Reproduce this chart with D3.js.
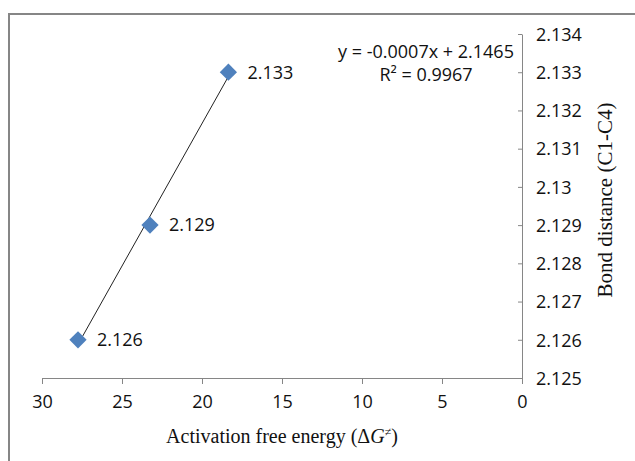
<!DOCTYPE html>
<html>
<head>
<meta charset="utf-8">
<script src="https://cdn.jsdelivr.net/npm/d3@7"></script>
<style>
  body { margin: 0; background: #fff; }
  svg { display: block; }
  .tick text { font-family: "Open Sans", sans-serif; font-size: 18px; fill: #111; }
</style>
</head>
<body>
<div id="chart"></div>
<script>
// activation free energy (x) vs bond distance C1-C4 (y)
var energy = [27.75, 23.25, 18.35]
var bond = [2.126, 2.129, 2.133]
var pointLabels = ['2.126', '2.129', '2.133']
var xTicks = [30, 25, 20, 15, 10, 5, 0]
var yTicks = [2.125, 2.126, 2.127, 2.128, 2.129, 2.13, 2.131, 2.132, 2.133, 2.134]
var equation = ['y = -0.0007x + 2.1465', 'R² = 0.9967']

var width = 635
var height = 461

var svg = d3.select('#chart')
	.append('svg')
		.attr('width', width)
		.attr('height', height)

// chart area border (runs off the right/bottom edge)
svg.append('rect')
	.attr('x', 9)
	.attr('y', 14)
	.attr('width', 700)
	.attr('height', 500)
	.attr('fill', 'none')
	.attr('stroke', '#868686')
	.attr('stroke-width', 2)

var x = d3.scaleLinear().domain([30, 0]).range([42, 522])
var y = d3.scaleLinear().domain([2.125, 2.134]).range([378, 34])

var xAxis = svg.append('g')
	.attr('transform', 'translate(0,378)')
	.call(d3.axisBottom(x).tickValues(xTicks).tickSize(6).tickSizeOuter(0).tickPadding(11)
		.tickFormat(d3.format('d')))

var yAxis = svg.append('g')
	.attr('transform', 'translate(522,0)')
	.call(d3.axisRight(y).tickValues(yTicks).tickSize(-4).tickSizeOuter(0).tickPadding(14)
		.tickFormat(function(d) { return d3.format('.4~f')(d) }))

svg.selectAll('.domain, .tick line').attr('stroke', '#868686')
yAxis.selectAll('.tick text').attr('dy', '0.35em')

// linear trendline (least squares) over the data range
var mx = d3.mean(energy), my = d3.mean(bond)
var sxy = d3.sum(energy, function(v, i) { return (v - mx) * (bond[i] - my) })
var sxx = d3.sum(energy, function(v) { return (v - mx) * (v - mx) })
var slope = sxy / sxx
var icpt = my - slope * mx
var ext = d3.extent(energy)

svg.append('line')
	.attr('x1', x(ext[0])).attr('y1', y(icpt + slope * ext[0]))
	.attr('x2', x(ext[1])).attr('y2', y(icpt + slope * ext[1]))
	.attr('stroke', '#222')
	.attr('stroke-width', 1)

var pts = energy.map(function(v, i) { return {x: v, y: bond[i], label: pointLabels[i]} })

svg.selectAll('path.pt')
	.data(pts)
	.enter().append('path')
		.attr('class', 'pt')
		.attr('d', d3.symbol().type(d3.symbolDiamond2).size(190))
		.attr('transform', function(d) { return 'translate(' + x(d.x) + ',' + y(d.y) + ')' })
		.attr('fill', '#4F81BD')

svg.selectAll('text.lbl')
	.data(pts)
	.enter().append('text')
		.attr('class', 'lbl')
		.attr('x', function(d) { return x(d.x) + 19 })
		.attr('y', function(d) { return y(d.y) })
		.attr('dy', '0.35em')
		.style('font-family', '"Open Sans", sans-serif')
		.style('font-size', '18px')
		.style('fill', '#111')
		.text(function(d) { return d.label })

svg.selectAll('text.eq')
	.data(equation)
	.enter().append('text')
		.attr('class', 'eq')
		.attr('x', 426)
		.attr('y', function(d, i) { return 58 + i * 23 })
		.attr('text-anchor', 'middle')
		.style('font-family', '"Open Sans", sans-serif')
		.style('font-size', '18px')
		.style('fill', '#111')
		.text(function(d) { return d })

// axis titles
var xt = svg.append('text')
	.attr('x', 282)
	.attr('y', 443)
	.attr('text-anchor', 'middle')
	.style('font-family', '"Liberation Serif", "Times New Roman", serif')
	.style('font-size', '20px')
	.style('fill', '#111')
xt.append('tspan').text('Activation free energy (Δ')
xt.append('tspan').style('font-style', 'italic').text('G')
xt.append('tspan').attr('dy', '-7').style('font-size', '12px').text('≠')
xt.append('tspan').attr('dy', '7').text(')')

svg.append('text')
	.attr('transform', 'translate(612,200) rotate(-90)')
	.attr('text-anchor', 'middle')
	.style('font-family', '"Liberation Serif", "Times New Roman", serif')
	.style('font-size', '21px')
	.style('fill', '#111')
	.text('Bond distance (C1-C4)')
</script>
</body>
</html>
